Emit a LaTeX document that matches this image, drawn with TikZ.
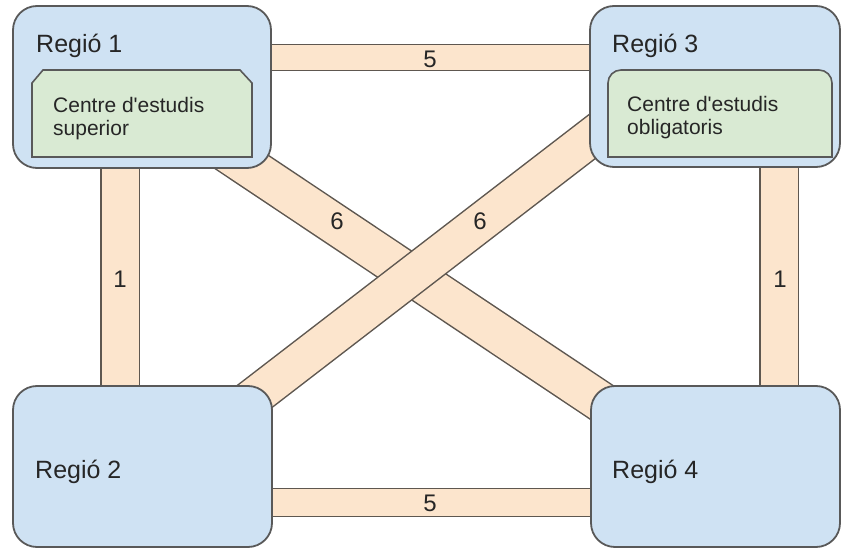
\documentclass[tikz,border=0pt]{standalone}
\usepackage{fontspec}
\setmainfont{Liberation Sans}
\usetikzlibrary{calc,backgrounds}
\definecolor{regionfill}{HTML}{CFE2F3}
\definecolor{centrefill}{HTML}{D9EAD3}
\definecolor{roadfill}{HTML}{FCE5CD}
\definecolor{edgegray}{HTML}{595959}
\definecolor{roadedge}{HTML}{5E5750}
\definecolor{ink}{HTML}{262626}

\begin{document}
\begin{tikzpicture}[x=1pt,y=-1pt,
  region/.style={draw=edgegray, line width=1.8pt, fill=regionfill,
                 rounded corners=24pt, inner sep=0pt},
  centre/.style={draw=edgegray, line width=1.6pt, fill=centrefill},
  road/.style={draw=roadedge, line width=1.5pt, double=roadfill, double distance=#1},
  title/.style={anchor=base west, inner sep=0pt, text=ink,
                font=\fontsize{25}{30}\selectfont},
  small/.style={anchor=base west, inner sep=0pt, text=ink,
                font=\fontsize{21}{25}\selectfont},
  weight/.style={inner sep=0pt, text=ink, font=\fontsize{24}{28}\selectfont},
]
\useasboundingbox (0,0) rectangle (841,548);

% regions
\node[region, minimum width=258pt, minimum height=162pt] (r1) at (142,87) {};
\node[region, minimum width=250pt, minimum height=161pt] (r3) at (715,86.5) {};
\node[region, minimum width=259pt, minimum height=161pt] (r2) at (142.5,466.5) {};
\node[region, minimum width=249pt, minimum height=161pt] (r4) at (715.5,466.5) {};

% roads between regions, drawn underneath
\begin{pgfonlayer}{background}
  \draw[road=24.5pt] ($(r1.center)+(0,-29.5)$) -- ($(r3.center)+(0,-29)$);
  \draw[road=26.5pt] ($(r2.center)+(0,36)$) -- ($(r4.center)+(0,36)$);
  \draw[road=37pt] ($(r1.center)+(-22,0)$) -- ($(r2.center)+(-22.5,0)$);
  \draw[road=37pt] ($(r3.center)+(64,0)$) -- ($(r4.center)+(63.5,0)$);
  \draw[road=39pt] ($(r1.center)+(0,8.4)$) -- ($(r4.center)+(0,11.9)$);
  \draw[road=37pt] ($(r3.center)+(0,-44.5)$) -- ($(r2.center)+(0,16.3)$);
\end{pgfonlayer}

% study centres
\draw[centre] (32,157) -- (32,83) -- (43,70) -- (240,70) -- (252,83)
  -- (252,157) -- cycle;
\draw[centre] (608,157) -- (608,83) arc[start angle=180, end angle=270, radius=13]
  -- (819,70) arc[start angle=270, end angle=360, radius=13] -- (832,157) -- cycle;

% texts
\node[title] (t1) at (36,53) {Regió 1};
\node[title] (t3) at (612,53) {Regió 3};
\node[title] (t2) at (35,478) {Regió 2};
\node[title] (t4) at (612,478) {Regió 4};
\node[small] (c1a) at (53,113) {Centre d\textquotesingle estudis};
\node[small] (c1b) at (53,136) {superior};
\node[small] (c3a) at (627,112) {Centre d\textquotesingle estudis};
\node[small] (c3b) at (627,135) {obligatoris};

% distances
\node[weight] (w13) at (430,59) {5};
\node[weight] (w24) at (430,503) {5};
\node[weight] (w12) at (120,279) {1};
\node[weight] (w34) at (780,279) {1};
\node[weight] (w14) at (337,221) {6};
\node[weight] (w32) at (480,221) {6};
\end{tikzpicture}
\end{document}
